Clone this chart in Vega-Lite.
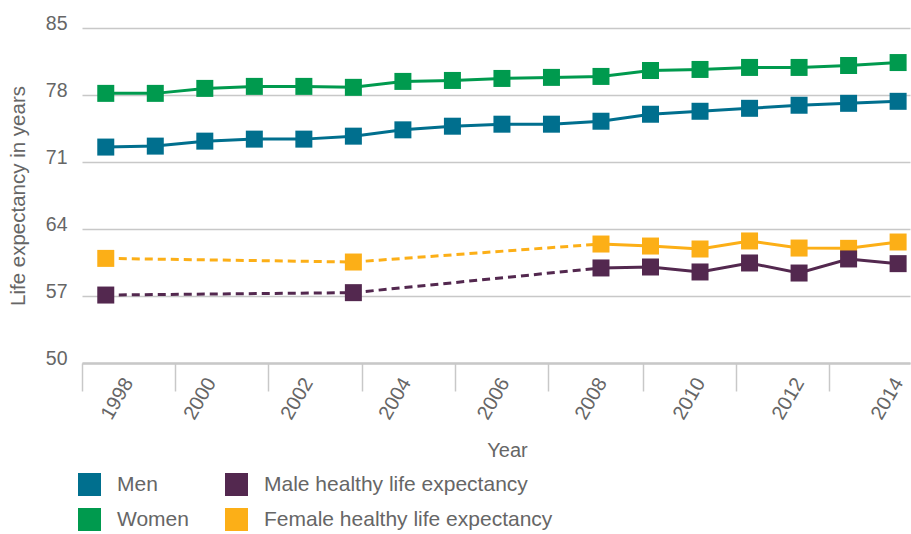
{
  "$schema": "https://vega.github.io/schema/vega-lite/v6.json",
  "width": 828,
  "height": 335,
  "autosize": "none",
  "padding": {"left": 82, "top": 28, "right": 1, "bottom": 171},
  "background": "white",
  "config": {
    "view": {"stroke": null},
    "font": "Liberation Sans"
  },
  "data": {
    "values": [
      {"year": 1998, "value": 72.56, "series": "Men"},
      {"year": 1999, "value": 72.66, "series": "Men"},
      {"year": 2000, "value": 73.18, "series": "Men"},
      {"year": 2001, "value": 73.39, "series": "Men"},
      {"year": 2002, "value": 73.39, "series": "Men"},
      {"year": 2003, "value": 73.7, "series": "Men"},
      {"year": 2004, "value": 74.36, "series": "Men"},
      {"year": 2005, "value": 74.74, "series": "Men"},
      {"year": 2006, "value": 74.95, "series": "Men"},
      {"year": 2007, "value": 74.95, "series": "Men"},
      {"year": 2008, "value": 75.26, "series": "Men"},
      {"year": 2009, "value": 75.99, "series": "Men"},
      {"year": 2010, "value": 76.3, "series": "Men"},
      {"year": 2011, "value": 76.61, "series": "Men"},
      {"year": 2012, "value": 76.93, "series": "Men"},
      {"year": 2013, "value": 77.13, "series": "Men"},
      {"year": 2014, "value": 77.34, "series": "Men"},
      {"year": 1998, "value": 78.17, "series": "Women"},
      {"year": 1999, "value": 78.17, "series": "Women"},
      {"year": 2000, "value": 78.69, "series": "Women"},
      {"year": 2001, "value": 78.9, "series": "Women"},
      {"year": 2002, "value": 78.9, "series": "Women"},
      {"year": 2003, "value": 78.8, "series": "Women"},
      {"year": 2004, "value": 79.42, "series": "Women"},
      {"year": 2005, "value": 79.52, "series": "Women"},
      {"year": 2006, "value": 79.73, "series": "Women"},
      {"year": 2007, "value": 79.84, "series": "Women"},
      {"year": 2008, "value": 79.94, "series": "Women"},
      {"year": 2009, "value": 80.56, "series": "Women"},
      {"year": 2010, "value": 80.67, "series": "Women"},
      {"year": 2011, "value": 80.88, "series": "Women"},
      {"year": 2012, "value": 80.88, "series": "Women"},
      {"year": 2013, "value": 81.08, "series": "Women"},
      {"year": 2014, "value": 81.39, "series": "Women"},
      {"year": 1998, "value": 60.93, "series": "Female healthy life expectancy"},
      {"year": 2003, "value": 60.55, "series": "Female healthy life expectancy"},
      {"year": 2008, "value": 62.43, "series": "Female healthy life expectancy"},
      {"year": 2009, "value": 62.22, "series": "Female healthy life expectancy"},
      {"year": 2010, "value": 61.91, "series": "Female healthy life expectancy"},
      {"year": 2011, "value": 62.75, "series": "Female healthy life expectancy"},
      {"year": 2012, "value": 62.01, "series": "Female healthy life expectancy"},
      {"year": 2013, "value": 61.98, "series": "Female healthy life expectancy"},
      {"year": 2014, "value": 62.64, "series": "Female healthy life expectancy"},
      {"year": 1998, "value": 57.1, "series": "Male healthy life expectancy"},
      {"year": 2003, "value": 57.35, "series": "Male healthy life expectancy"},
      {"year": 2008, "value": 59.93, "series": "Male healthy life expectancy"},
      {"year": 2009, "value": 60.03, "series": "Male healthy life expectancy"},
      {"year": 2010, "value": 59.51, "series": "Male healthy life expectancy"},
      {"year": 2011, "value": 60.45, "series": "Male healthy life expectancy"},
      {"year": 2012, "value": 59.4, "series": "Male healthy life expectancy"},
      {"year": 2013, "value": 60.87, "series": "Male healthy life expectancy"},
      {"year": 2014, "value": 60.38, "series": "Male healthy life expectancy"}
    ]
  },
  "encoding": {
    "y": {
      "field": "value",
      "type": "quantitative",
      "scale": {"domain": [50, 85], "nice": false, "zero": false},
      "axis": {
        "values": [50, 57, 64, 71, 78, 85],
        "grid": true,
        "gridColor": "#c8c8c8",
        "gridWidth": 1.5,
        "domain": false,
        "ticks": false,
        "labelFontSize": 19.5,
        "labelColor": "#666666",
        "labelPadding": 15,
        "labelBaseline": "alphabetic",
        "labelOffset": 1,
        "title": "Life expectancy in years",
        "titleFontSize": 20.5,
        "titleFontWeight": "normal",
        "titleColor": "#666666",
        "titlePadding": 17
      }
    },
    "color": {
      "field": "series",
      "type": "nominal",
      "scale": {
        "domain": ["Men", "Male healthy life expectancy", "Women", "Female healthy life expectancy"],
        "range": ["#006f8e", "#53284f", "#009a4e", "#fcaf17"]
      },
      "legend": {
        "orient": "none",
        "legendX": -4,
        "legendY": 445,
        "direction": "horizontal",
        "columns": 2,
        "title": null,
        "padding": 0,
        "symbolType": "square",
        "symbolSize": 529,
        "symbolStrokeWidth": 0,
        "symbolFillColor": null,
        "symbolOpacity": 1,
        "labelFontSize": 21,
        "labelColor": "#666666",
        "labelOffset": 16,
        "labelLimit": 400,
        "rowPadding": 12,
        "columnPadding": 36
      }
    }
  },
  "resolve": {"axis": {"x": "independent"}},
  "layer": [
    {
      "transform": [{"filter": "indexof(datum.series, 'healthy') >= 0 && datum.year <= 2008"}],
      "mark": {"type": "line", "strokeWidth": 3, "strokeDash": [8, 5]},
      "encoding": {
        "x": {
          "field": "year",
          "type": "quantitative",
          "scale": {"domain": [1997.52, 2014.24], "nice": false, "zero": false},
          "axis": {
            "orient": "bottom",
            "values": [1997.52, 1999.4, 2001.28, 2003.18, 2005.06, 2006.94, 2008.84, 2010.72, 2012.6],
            "labels": false,
            "ticks": true,
            "tickSize": 28,
            "tickColor": "#c8c8c8",
            "tickWidth": 1.5,
            "domain": true,
            "domainColor": "#c8c8c8",
            "domainWidth": 2.5,
            "grid": false,
            "title": null
          }
        }
      }
    },
    {
      "transform": [{"filter": "indexof(datum.series, 'healthy') < 0 || datum.year >= 2008"}],
      "mark": {"type": "line", "strokeWidth": 3},
      "encoding": {
        "x": {"field": "year", "type": "quantitative", "axis": null}
      }
    },
    {
      "mark": {"type": "point", "shape": "square", "filled": true, "size": 289, "opacity": 1, "strokeWidth": 0},
      "encoding": {
        "x": {
          "field": "year",
          "type": "quantitative",
          "axis": {
            "orient": "bottom",
            "values": [1998.45, 2000.12, 2002.08, 2004.06, 2006.05, 2008.02, 2010, 2012, 2014],
            "labelExpr": "format(2 * round(datum.value / 2), 'd')",
            "labelAngle": -60,
            "labelAlign": "right",
            "labelBaseline": "middle",
            "labelPadding": 16,
            "labelFontSize": 20,
            "labelColor": "#666666",
            "labelOverlap": false,
            "labelFlush": false,
            "labelBound": false,
            "ticks": false,
            "tickSize": 0,
            "domain": false,
            "grid": false,
            "title": "Year",
            "titleFontSize": 20,
            "titleFontWeight": "normal",
            "titleColor": "#666666",
            "titleX": 425,
            "titleY": 77,
            "titleBaseline": "top"
          }
        }
      }
    }
  ]
}
